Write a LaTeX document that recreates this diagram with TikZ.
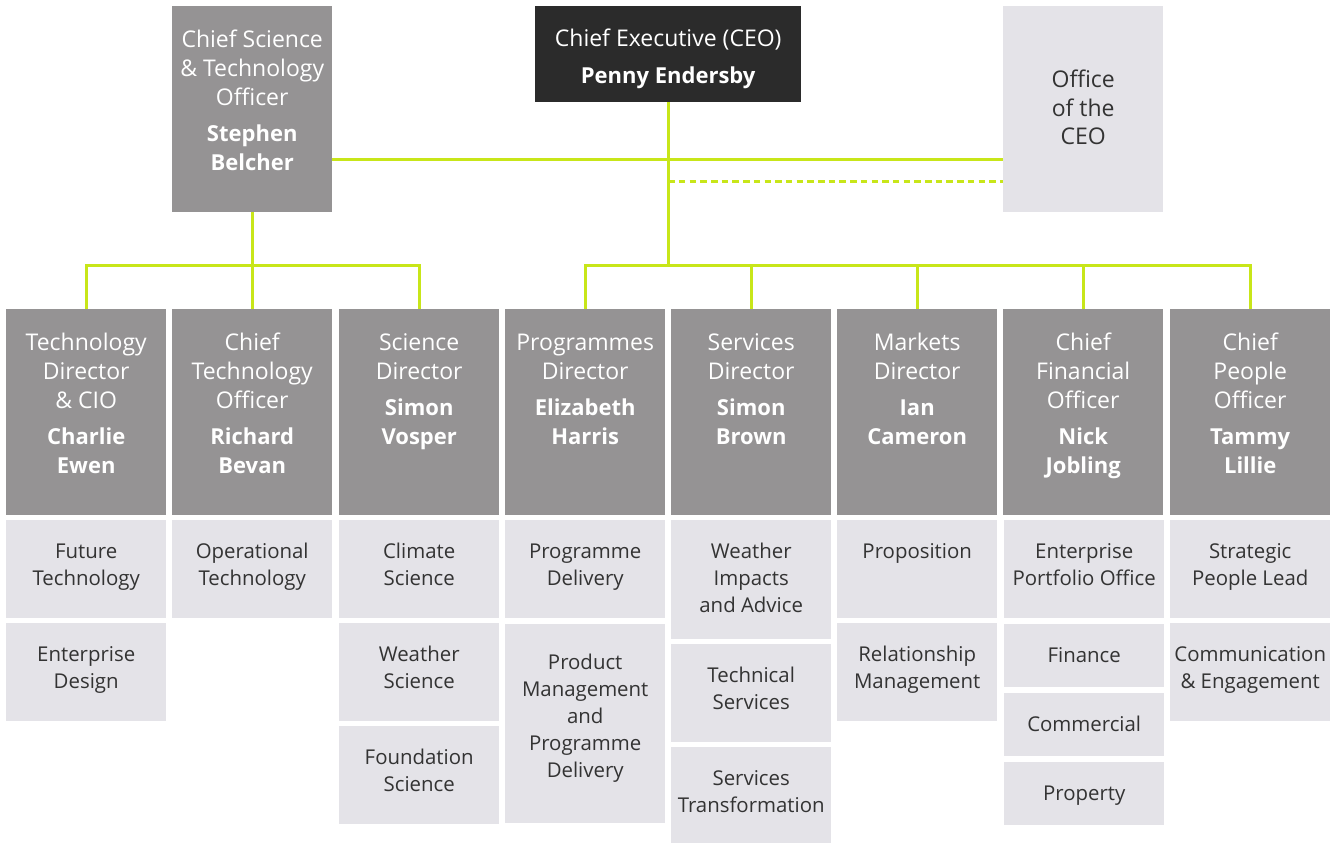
\documentclass[tikz,border=0pt]{standalone}
\usepackage{fontspec}
\setmainfont{Open Sans}
\definecolor{hdr}{RGB}{149,147,148}
\definecolor{ceocol}{RGB}{43,43,43}
\definecolor{subcol}{RGB}{228,227,232}
\definecolor{lime}{RGB}{200,230,25}
\definecolor{subtxt}{RGB}{51,51,51}
% header text: [width]{height}{title}{name}
\newcommand\hdtxt[4][160pt]{\parbox[c][#2][t]{#1}{\centering\fontsize{23}{29}\selectfont\vspace*{20.5pt}\strut #3\par\vspace{7pt}\fontsize{22}{29}\selectfont\bfseries #4\par}}
% sub text: [top gap]{height}{text}
\newcommand\sbtxt[3][19pt]{\parbox[c][#2][t]{160pt}{\centering\fontsize{20.4}{27}\selectfont\vspace*{#1}\strut #3\par}}
\tikzset{
  hbox/.style={fill=hdr, inner sep=0pt, anchor=north west, text=white},
  ceobox/.style={fill=ceocol, inner sep=0pt, anchor=north west, text=white},
  sbox/.style={fill=subcol, inner sep=0pt, anchor=north west, text=subtxt},
  conn/.style={draw=lime, line width=3pt},
  dconn/.style={conn, dash pattern=on 6.5pt off 4.2pt},
}
\begin{document}
\begin{tikzpicture}[x=1pt,y=-1pt]
\useasboundingbox[fill=white] (0,0) rectangle (1343,843);

% top row
\node[hbox] (csto) at (172,6) {\hdtxt{206pt}{Chief Science\\\& Technology\\Officer}{Stephen\\Belcher}};
\node[ceobox] (ceo) at (535,6) {\hdtxt[266pt]{96pt}{Chief Executive (CEO)}{Penny Endersby}};
\node[sbox] (office) at (1003,6) {\parbox[c][206pt][t]{160pt}{\centering\fontsize{23}{29}\selectfont\vspace*{60.5pt}\strut Office\\of the\\CEO\par}};

% headers
\node[hbox] (h1) at (6,309) {\hdtxt{206pt}{Technology\\Director\\\& CIO}{Charlie\\Ewen}};
\node[hbox] (h2) at (172,309) {\hdtxt{206pt}{Chief\\Technology\\Officer}{Richard\\Bevan}};
\node[hbox] (h3) at (339,309) {\hdtxt{206pt}{Science\\Director}{Simon\\Vosper}};
\node[hbox] (h4) at (505,309) {\hdtxt{206pt}{Programmes\\Director}{Elizabeth\\Harris}};
\node[hbox] (h5) at (671,309) {\hdtxt{206pt}{Services\\Director}{Simon\\Brown}};
\node[hbox] (h6) at (837,309) {\hdtxt{206pt}{Markets\\Director}{Ian\\Cameron}};
\node[hbox] (h7) at (1003,309) {\hdtxt{206pt}{Chief\\Financial\\Officer}{Nick\\Jobling}};
\node[hbox] (h8) at (1170,309) {\hdtxt{206pt}{Chief\\People\\Officer}{Tammy\\Lillie}};

% sub boxes
\node[sbox] (s11) at (6,520) {\sbtxt{98pt}{Future\\Technology}};
\node[sbox] (s12) at (6,623) {\sbtxt{98pt}{Enterprise\\Design}};
\node[sbox] (s21) at (172,520) {\sbtxt{98pt}{Operational\\Technology}};
\node[sbox] (s31) at (339,520) {\sbtxt{98pt}{Climate\\Science}};
\node[sbox] (s32) at (339,623) {\sbtxt{98pt}{Weather\\Science}};
\node[sbox] (s33) at (339,726) {\sbtxt{98pt}{Foundation\\Science}};
\node[sbox] (s41) at (505,520) {\sbtxt{98pt}{Programme\\Delivery}};
\node[sbox] (s42) at (505,624) {\sbtxt[26pt]{199pt}{Product\\Management\\and\\Programme\\Delivery}};
\node[sbox] (s51) at (671,520) {\sbtxt{119pt}{Weather\\Impacts\\and Advice}};
\node[sbox] (s52) at (671,644) {\sbtxt{98pt}{Technical\\Services}};
\node[sbox] (s53) at (671,747) {\sbtxt{96pt}{Services\\Transformation}};
\node[sbox] (s61) at (837,520) {\sbtxt{98pt}{Proposition}};
\node[sbox] (s62) at (837,623) {\sbtxt{98pt}{Relationship\\Management}};
\node[sbox] (s71) at (1004,520) {\sbtxt{98pt}{Enterprise\\Portfolio Office}};
\node[sbox] (s72) at (1004,624) {\sbtxt{63pt}{Finance}};
\node[sbox] (s73) at (1004,693) {\sbtxt{63pt}{Commercial}};
\node[sbox] (s74) at (1004,762) {\sbtxt{63pt}{Property}};
\node[sbox] (s81) at (1170,520) {\sbtxt{98pt}{Strategic\\People Lead}};
\node[sbox] (s82) at (1170,623) {\sbtxt{98pt}{Communication\\\& Engagement}};

% connectors
\coordinate (jc) at (668,265);
\coordinate (js) at (252,265);
\coordinate (ys) at (0,159);
\coordinate (yd) at (0,181);
\draw[conn] (ceo.south) -- (ceo.south |- jc);
\draw[conn] (h4.north) -- (h4.north |- jc) -- (h8.north |- jc) -- (h8.north);
\foreach \h in {h5,h6,h7} \draw[conn] (\h.north) -- (\h.north |- jc);
\draw[conn] (csto.south) -- (csto.south |- js);
\draw[conn] (h1.north) -- (h1.north |- js) -- (h3.north |- js) -- (h3.north);
\draw[conn] (h2.north) -- (h2.north |- js);
\draw[conn] (csto.east |- ys) -- (office.west |- ys);
\draw[dconn] (ceo.south |- yd) -- (office.west |- yd);
\end{tikzpicture}
\end{document}
